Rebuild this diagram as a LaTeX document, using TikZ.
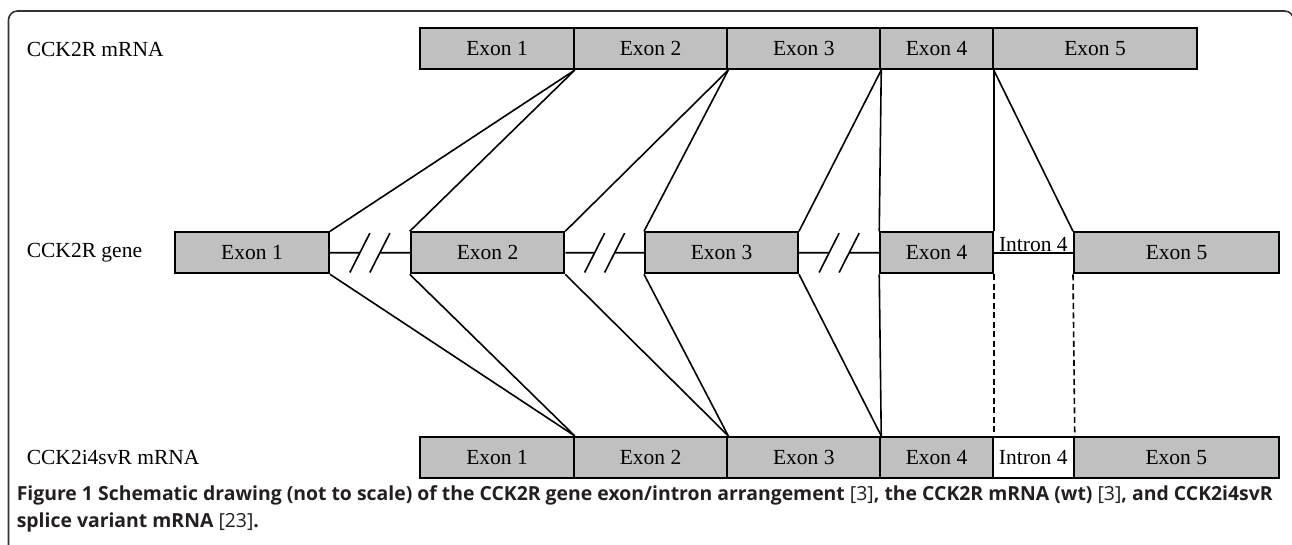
\documentclass[tikz,border=0pt]{standalone}
\usepackage{fontspec}
\setmainfont{Liberation Serif}
\newfontfamily\capfont{Open Sans}
\usepackage{tikz}
\usetikzlibrary{calc}
\definecolor{exongray}{HTML}{C0C0C0}
\definecolor{captext}{HTML}{231F20}
\newcommand{\capref}[1]{{\mdseries[#1]}}

\begin{document}
\begin{tikzpicture}[x=1pt,y=-1pt,line width=1.6pt,font=\fontsize{21.5}{24}\selectfont]
\tikzstyle{exon}=[shape=rectangle,draw=black,fill=exongray,line width=2pt,minimum height=41pt,inner sep=0pt]
\tikzstyle{intron}=[exon,fill=white]
\tikzstyle{row}=[anchor=west,inner sep=0pt]
\useasboundingbox (0,0) rectangle (1292,545);
% frame, open at the bottom
\begin{scope}
\clip (0,0) rectangle (1292,545);
\draw[line width=1.6pt,draw=black!80,rounded corners=9pt] (8.5,600) -- (8.5,11) -- (1293.5,11) -- (1293.5,600);
\end{scope}
% row labels
\node[row] (R) at (26,49) {CCK2R mRNA};
\node[row] (G) at (26,253) {CCK2R gene};
\node[row] (V) at (26,457) {CCK2i4svR mRNA};
% wild type mRNA
\node[exon,minimum width=153.5pt] (m1) at (497,48.6) {Exon 1};
\node[exon,minimum width=153.5pt] (m2) at (650.5,48.6) {Exon 2};
\node[exon,minimum width=153pt] (m3) at (803.75,48.6) {Exon 3};
\node[exon,minimum width=112.5pt] (m4) at (936.5,48.6) {Exon 4};
\node[exon,minimum width=204.5pt] (m5) at (1095,48.6) {Exon 5};
% gene
\node[exon,minimum width=154pt] (g1) at (252,252.8) {Exon 1};
\node[exon,minimum width=153.5pt] (g2) at (487.5,252.8) {Exon 2};
\node[exon,minimum width=153pt] (g3) at (721.5,252.8) {Exon 3};
\node[exon,minimum width=112.5pt] (g4) at (936.5,252.8) {Exon 4};
\node[exon,minimum width=205pt] (g5) at (1176.5,252.8) {Exon 5};
% splice variant mRNA
\node[exon,minimum width=153.5pt] (s1) at (497,457.4) {Exon 1};
\node[exon,minimum width=153.5pt] (s2) at (650.5,457.4) {Exon 2};
\node[exon,minimum width=153pt] (s3) at (803.75,457.4) {Exon 3};
\node[exon,minimum width=112.5pt] (s4) at (936.5,457.4) {Exon 4};
\node[intron,minimum width=81pt] (s6) at (1033.25,457.4) {Intron 4};
\node[exon,minimum width=205pt] (s5) at (1176.25,457.4) {Exon 5};
% introns of the gene
\foreach \a/\b in {g1/g2,g2/g3,g3/g4}{
  \coordinate (c) at ($(\a.east)!0.5!(\b.west)$);
  \draw (\a.east) -- ($(c)+(-10,0)$);
  \draw ($(c)+(10,0)$) -- (\b.west);
  \draw ($(c)+(-20,19.7)$) -- ++(20,-39.4);
  \draw ($(c)+(0,19.7)$) -- ++(20,-39.4);
}
\draw (g4.east) -- node[anchor=base,inner sep=0pt,yshift=1pt] (I) {Intron 4} (g5.west);
% mRNA to gene
\path (m1.south east) edge (g1.north east) edge (g2.north west)
	(m2.south east) edge (g2.north east) edge (g3.north west)
	(m3.south east) edge (g3.north east) edge (g4.north west)
	(m4.south east) edge (g4.north east) edge (g5.north west);
% gene to splice variant
\path (g1.south east) edge (s1.north east)
	(g2.south west) edge (s1.north east)
	(g2.south east) edge (s2.north east)
	(g3.south west) edge (s2.north east)
	(g3.south east) edge (s3.north east)
	(g4.south west) edge (s3.north east);
\path[dash pattern=on 6pt off 3.5pt] (g4.south east) edge (s4.north east)
	(g5.south west) edge (s6.north east);
% caption
\node[anchor=north west,align=left,inner sep=0pt,text=captext,font=\capfont\bfseries\fontsize{19.4}{27}\selectfont] (F) at (16,485)
{Figure 1 Schematic drawing (not to scale) of the CCK2R gene exon/intron arrangement \capref{3}, the CCK2R mRNA (wt) \capref{3}, and CCK2i4svR\\
splice variant mRNA \capref{23}.};
\end{tikzpicture}
\end{document}
